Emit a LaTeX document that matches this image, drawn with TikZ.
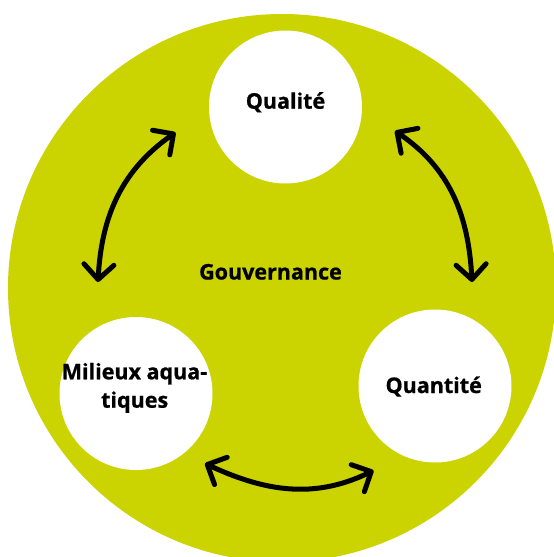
\documentclass[tikz,border=0pt]{standalone}
\usepackage{fontspec}
\setmainfont{Open Sans}[BoldFeatures={FakeBold=0.8}]
\usetikzlibrary{arrows.meta}
\definecolor{govgreen}{RGB}{203,211,0}
\tikzset{
  bubble/.style={circle, fill=white, minimum size=153pt, inner sep=0pt},
  lbl/.style={font=\bfseries\fontsize{21.5}{28.4}\selectfont, text=black, anchor=base, align=center, inner sep=0pt},
  link/.style={line width=5pt, line cap=round, {Straight Barb[round,length=15pt,width=30pt]}-{Straight Barb[round,length=15pt,width=30pt]}}
}
\begin{document}
\begin{tikzpicture}[x=1pt,y=1pt]
\useasboundingbox (0,0) rectangle (554,-557);
\clip (0,0) rectangle (554,-557);
\fill[white] (0,0) rectangle (554,-557);
\node[circle, fill=govgreen, minimum size=548pt, inner sep=0pt] (gov) at (282,-288) {};
\node[bubble] (qual) at (285.5,-107) {};
\node[bubble] (mil) at (136,-393.5) {};
\node[bubble] (quan) at (435,-386) {};
\node[lbl] (govt) at (270.5,-279.5) {Gouvernance};
\node[lbl] (qualt) at (285.5,-108.7) {Qualité};
\node[lbl] (milt1) at (134.5,-379.3) {Milieux aqua-};
\node[lbl] (milt2) at (134.7,-407.7) {tiques};
\node[lbl] (quant) at (433.7,-393) {Quantité};
\coordinate (l1) at (98,-282);
\coordinate (l2) at (175.5,-132.5);
\coordinate (r1) at (395,-131);
\coordinate (r2) at (472,-282);
\coordinate (b1) at (205,-463.5);
\coordinate (b2) at (373.5,-470.5);
\draw[link] (l1) to[out=87,in=215] (l2);
\draw[link] (r1) to[out=-34,in=93] (r2);
\draw[link] (b1) to[out=-25,in=206] (b2);
\end{tikzpicture}
\end{document}
